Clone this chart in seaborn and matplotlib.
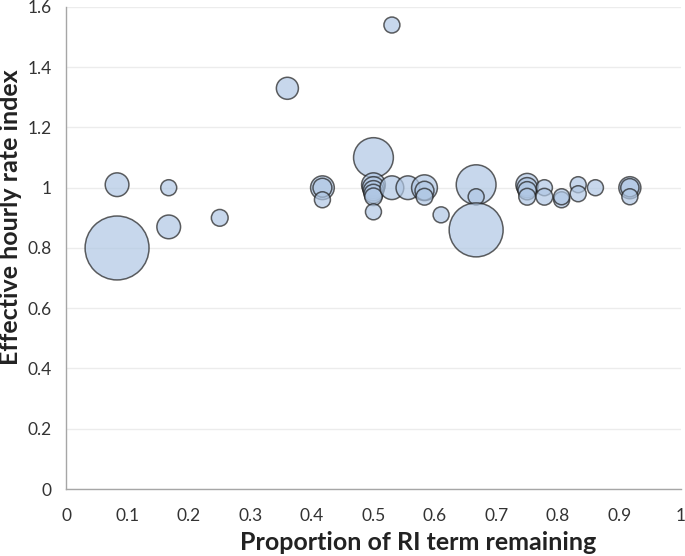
import matplotlib
matplotlib.use("Agg")
import matplotlib.pyplot as plt
import seaborn as sns
import pandas as pd

# bubble data (size ~ bubble area)
term_left = [0.083, 0.083, 0.167, 0.167, 0.25, 0.36, 0.53,
             0.417, 0.417, 0.417,
             0.5, 0.5, 0.5, 0.5, 0.5, 0.5, 0.5,
             0.53, 0.556, 0.583, 0.583, 0.583, 0.61,
             0.667, 0.667, 0.667,
             0.75, 0.75, 0.75, 0.75, 0.778, 0.778, 0.806, 0.806,
             0.833, 0.833, 0.861, 0.917, 0.917, 0.917]
rate_index = [0.80, 1.01, 1.00, 0.87, 0.90, 1.33, 1.54,
              1.00, 1.00, 0.96,
              1.10, 1.01, 1.00, 0.99, 0.98, 0.97, 0.92,
              1.00, 1.00, 1.00, 0.99, 0.97, 0.91,
              1.01, 0.97, 0.86,
              1.01, 1.00, 0.99, 0.97, 1.00, 0.97, 0.96, 0.97,
              1.01, 0.98, 1.00, 1.00, 1.00, 0.97]
weight = [16, 2.2, 1, 2.2, 1.1, 1.9, 1,
          2.2, 1.4, 1,
          6.2, 2.2, 1.9, 1.6, 1.4, 1.2, 1,
          2.2, 2.2, 2.6, 1.4, 1.1, 1,
          6.2, 1, 11.4,
          2, 1.6, 1.3, 1.1, 1, 1.1, 1, 1,
          1, 1, 1, 1.9, 1.3, 1]

df = pd.DataFrame({"x": term_left, "y": rate_index, "w": weight})

sns.set_style("white")
plt.rcParams["font.family"] = ["Lato", "DejaVu Sans"]

fig = plt.figure(figsize=(6.85, 5.56), dpi=100)
ax = fig.add_axes([0.0964, 0.1205, 0.8976, 0.867])

# 32 px radius for the biggest bubble -> s ~ 2120 pt^2
sns.scatterplot(data=df, x="x", y="y", size="w", sizes=(0, 2120),
                size_norm=(0, 16), color="#b0c7e4", alpha=0.7,
                edgecolor="#1e1e1e", linewidth=1.1, legend=False, ax=ax)

ax.set_xlim(0, 1)
ax.set_ylim(0, 1.6)
ax.set_xticks([i / 10 for i in range(11)])
ax.set_xticklabels(["0", "0.1", "0.2", "0.3", "0.4", "0.5", "0.6", "0.7", "0.8", "0.9", "1"])
ax.set_yticks([i / 5 for i in range(9)])
ax.set_yticklabels(["0", "0.2", "0.4", "0.6", "0.8", "1", "1.2", "1.4", "1.6"])
ax.yaxis.grid(True, color="#ececec", linewidth=1)
ax.set_axisbelow(True)

for s in ["top", "right"]:
    ax.spines[s].set_visible(False)
for s in ["left", "bottom"]:
    ax.spines[s].set_color("#a6a6a6")
    ax.spines[s].set_linewidth(1)
ax.tick_params(axis="both", direction="out", length=3.5, width=1, color="#a6a6a6",
               labelsize=12.5, labelcolor="#333333")
ax.tick_params(axis="x", pad=10)
ax.tick_params(axis="y", pad=7)

ax.set_xlabel("Proportion of RI term remaining", fontsize=18, fontweight="bold",
              color="#222222")
ax.set_ylabel("Effective hourly rate index", fontsize=18, fontweight="bold",
              color="#222222")
ax.xaxis.set_label_coords(0.572, -0.088)
ax.yaxis.set_label_coords(-0.071, 0.564)

fig.savefig("out.png", dpi=100)
